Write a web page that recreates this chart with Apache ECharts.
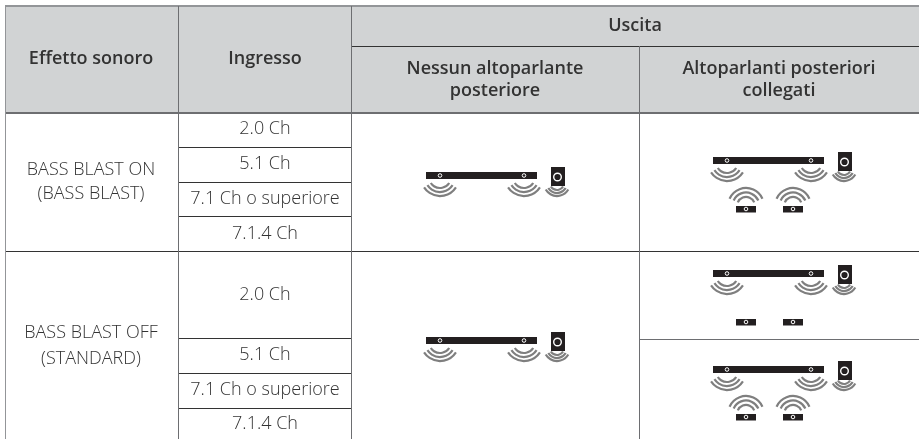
<!DOCTYPE html>
<html>
<head>
<meta charset="utf-8">
<style>html,body{margin:0;padding:0;background:#fff}#main{width:924px;height:439px}</style>
<script src="https://cdn.jsdelivr.net/npm/echarts@6/dist/echarts.min.js"></script>
</head>
<body>
<div id="main"></div>
<script>
var effectHeader = 'Effetto sonoro';
var inputHeader = 'Ingresso';
var outputHeader = 'Uscita';
var noRearHeader = ['Nessun altoparlante', 'posteriore'];
var rearHeader = ['Altoparlanti posteriori', 'collegati'];
var effects = [['BASS BLAST ON', '(BASS BLAST)'], ['BASS BLAST OFF', '(STANDARD)']];
var inputs = ['2.0 Ch', '5.1 Ch', '7.1 Ch o superiore', '7.1.4 Ch'];

var dom = document.getElementById('main');
var myChart = echarts.init(dom);

var FONT = '"Open Sans", "Noto Sans", sans-serif';
var els = [];

function hline(x1, x2, y, color, h) {
  els.push({ type: 'rect', silent: true, shape: { x: x1, y: y, width: x2 - x1, height: h || 1 }, style: { fill: color } });
}
function vline(x, y1, y2, color, w) {
  els.push({ type: 'rect', silent: true, shape: { x: x, y: y1, width: w || 1, height: y2 - y1 }, style: { fill: color } });
}
function label(txt, x, y, head) {
  els.push({
    type: 'text', silent: true, x: x, y: y,
    style: {
      text: txt, align: 'center', verticalAlign: 'middle',
      fontFamily: FONT, fontSize: 18,
      fontWeight: head ? 600 : 300, fill: head ? '#333' : '#333'
    }
  });
}
// sound waves, concentric arcs
function waves(cx, cy, radii, a1, a2) {
  radii.forEach(function (r) {
    els.push({
      type: 'arc', silent: true,
      shape: { cx: cx, cy: cy, r: r, startAngle: a1 * Math.PI / 180, endAngle: a2 * Math.PI / 180, clockwise: true },
      style: { fill: null, stroke: '#7f7f7f', lineWidth: 2.2 }
    });
  });
}
function box(x, y, w, h) {
  els.push({ type: 'rect', silent: true, shape: { x: x, y: y, width: w, height: h }, style: { fill: '#231f20' } });
}
function ring(cx, cy, r, lw) {
  els.push({ type: 'circle', silent: true, shape: { cx: cx, cy: cy, r: r }, style: { fill: '#231f20', stroke: '#fff', lineWidth: lw } });
}
// soundbar + subwoofer
function mainIcon(x, y) {
  box(x, y, 111, 7);
  ring(x + 14, y + 3.5, 1.8, 1);
  ring(x + 98, y + 3.5, 1.8, 1);
  waves(x + 14, y + 5, [11, 15, 19], 33, 147);
  waves(x + 98, y + 5, [11, 15, 19], 33, 147);
  waves(x + 131, y + 11, [7, 10, 13], 30, 150);
  box(x + 125, y - 5, 14, 19);
  ring(x + 131.5, y + 5, 3.8, 1.4);
}
function rearIcon(x, y, withWaves) {
  if (withWaves) waves(x + 10, y, [9, 13.5, 18], 204, 336);
  box(x, y, 20, 6.5);
  ring(x + 10, y + 3, 1.8, 1);
}

// header background
els.push({ type: 'rect', silent: true, shape: { x: 5, y: 6, width: 914, height: 106 }, style: { fill: '#d1d3d4' } });

// rows
[112, 147, 182, 216].forEach(function (y, i) {
  hline(i === 0 ? 5 : 178, i === 0 ? 919 : 351, y, i === 0 ? '#6d6e71' : '#333', i === 0 ? 2 : 1);
});
hline(5, 919, 251, '#333', 1);
[338, 373, 408].forEach(function (y) { hline(178, 351, y, '#333', 1); });
hline(351, 919, 46, '#333', 1);
hline(639, 919, 339, '#6d6e71', 1);
hline(5, 919, 5, '#939598', 2);

// columns
vline(5, 5, 439, '#939598', 1);
vline(178, 6, 439, '#6d6e71', 1);
vline(351, 6, 439, '#6d6e71', 1);
vline(639, 46, 439, '#6d6e71', 1);

// header text
label(effectHeader, 91, 59, true);
label(inputHeader, 265, 59, true);
label(outputHeader, 635, 26, true);
label(noRearHeader[0], 495, 69, true);
label(noRearHeader[1], 495, 91, true);
label(rearHeader[0], 779, 69, true);
label(rearHeader[1], 779, 91, true);

// first column
label(effects[0][0], 91, 170);
label(effects[0][1], 91, 194);
label(effects[1][0], 91, 333);
label(effects[1][1], 91, 359);

// inputs
[129, 164, 199, 234].forEach(function (y, i) { label(inputs[i], 265, y); });
[295, 355, 390, 424].forEach(function (y, i) { label(inputs[i], 265, y); });

// icons
mainIcon(426, 172);
mainIcon(426, 337);
mainIcon(713, 157);
rearIcon(736, 206, true);
rearIcon(783, 206, true);
mainIcon(713, 270);
rearIcon(736, 319, false);
rearIcon(783, 319, false);
mainIcon(713, 366);
rearIcon(736, 414, true);
rearIcon(783, 414, true);

var option = {
  animation: false,
  backgroundColor: '#fff',
  graphic: { elements: els }
};
myChart.setOption(option);
</script>
</body>
</html>
